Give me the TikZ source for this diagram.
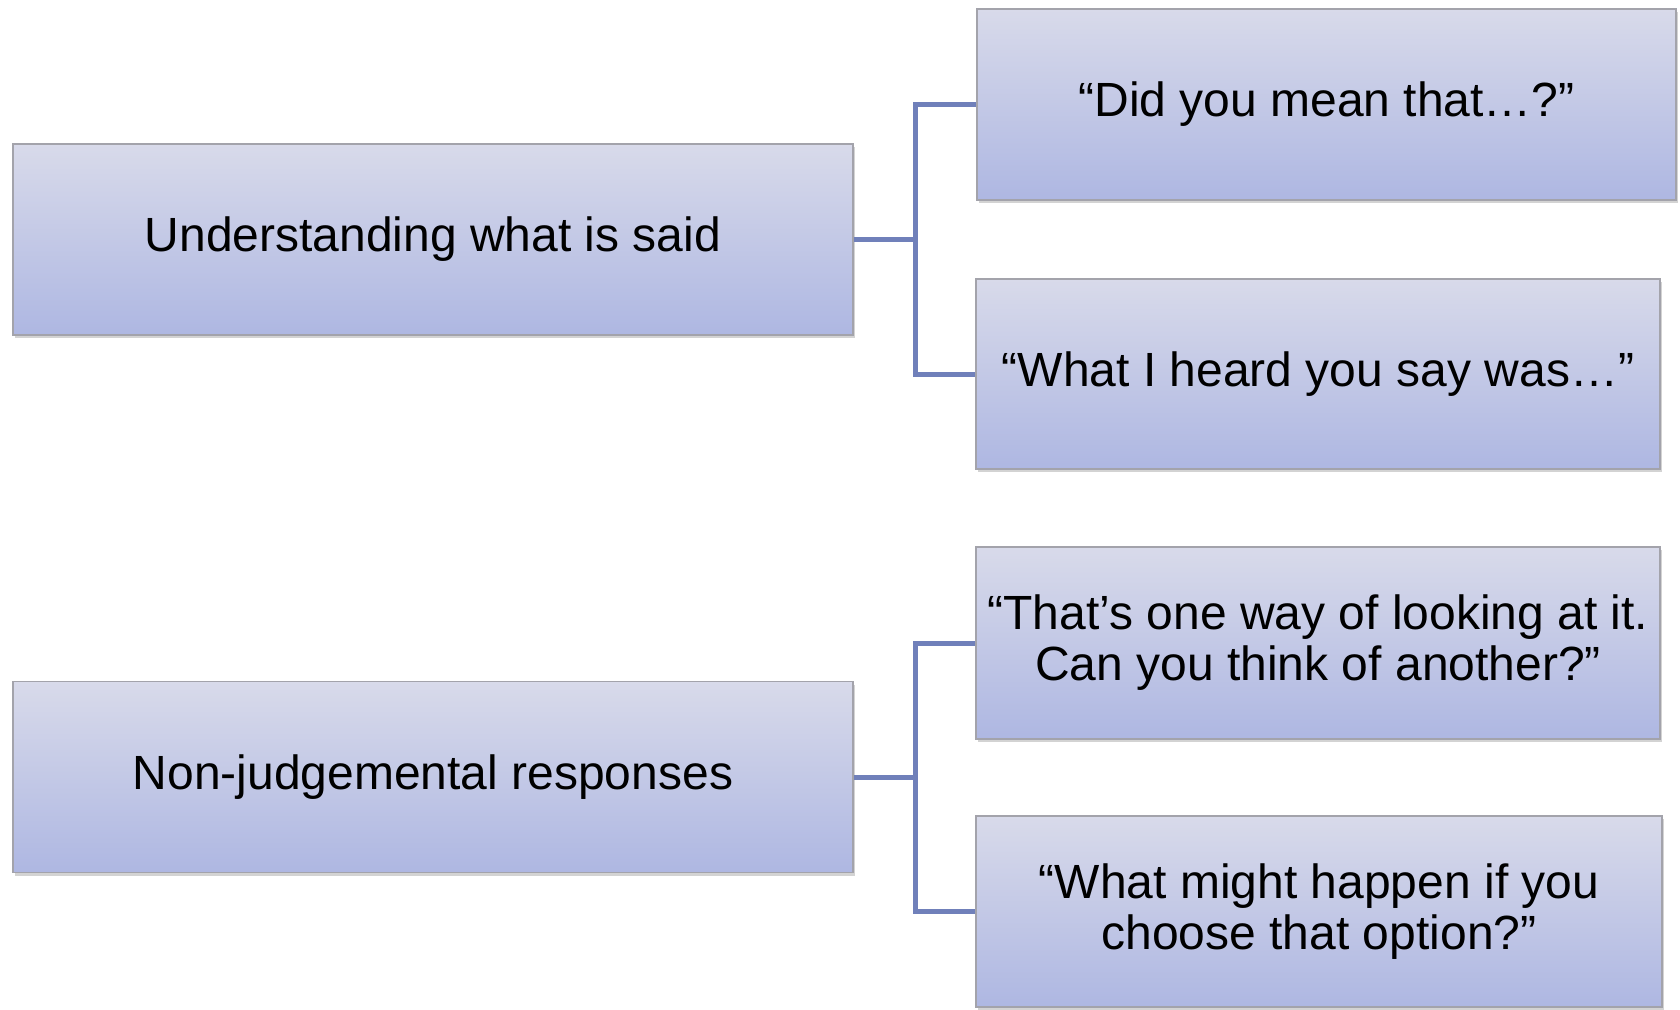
\documentclass[tikz,border=0pt]{standalone}
\usepackage{fontspec}
\setmainfont{Liberation Sans}
\usetikzlibrary{shadows}
\definecolor{boxtop}{HTML}{D8DAEA}
\definecolor{boxbot}{HTML}{AEB7E2}
\definecolor{boxedge}{HTML}{A3A3AB}
\definecolor{conn}{HTML}{7080BA}
\tikzset{
  box/.style={draw=boxedge, line width=1.5pt, top color=boxtop, bottom color=boxbot,
    align=center, inner sep=0pt, font=\fontsize{48}{51}\selectfont, text=black,
    drop shadow={shadow xshift=2pt, shadow yshift=-3pt, opacity=0.35, fill=gray}},
  link/.style={draw=conn, line width=5pt}
}
\begin{document}
\begin{tikzpicture}[x=1pt,y=-1pt]
\useasboundingbox (0,0) rectangle (1680,1009);
\node[box, minimum width=840pt, minimum height=191pt] (L1) at (433,239.5) {Understanding what is said};
\node[box, minimum width=840pt, minimum height=191pt] (L2) at (433,777) {Non-judgemental responses};
\node[box, minimum width=699pt, minimum height=191pt] (R1) at (1326.5,104.5) {“Did you mean that…?”};
\node[box, minimum width=684pt, minimum height=190pt] (R2) at (1318,374) {“What I heard you say was…”};
\node[box, minimum width=684pt, minimum height=192pt] (R3) at (1318,643) {“That’s one way of looking at it.\\Can you think of another?”};
\node[box, minimum width=686pt, minimum height=191pt] (R4) at (1319,911.5) {“What might happen if you\\choose that option?”};
\coordinate (J1) at (915,239.5);
\coordinate (J2) at (915,777);
\draw[link] (L1.east) -- (J1);
\draw[link] (J1) |- (R1.west);
\draw[link] (J1) |- (R2.west);
\draw[link] (L2.east) -- (J2);
\draw[link] (J2) |- (R3.west);
\draw[link] (J2) |- (R4.west);
\end{tikzpicture}
\end{document}
